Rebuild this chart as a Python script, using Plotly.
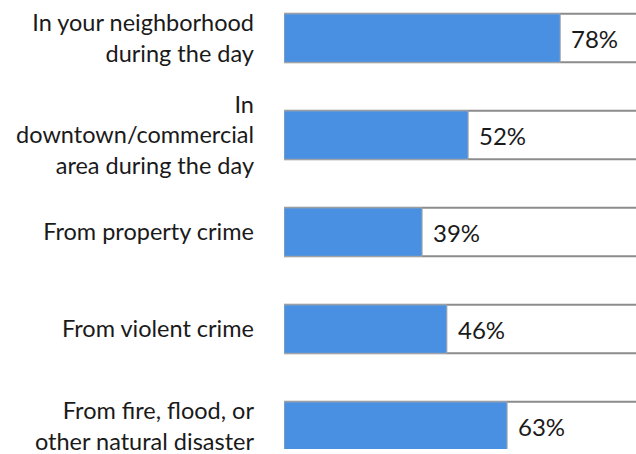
import plotly.graph_objects as go

categories = [
    "In your neighborhood<br>during the day",
    "In<br>downtown/commercial<br>area during the day",
    "From property crime",
    "From violent crime",
    "From fire, flood, or<br>other natural disaster",
]
values = [78, 52, 39, 46, 63]
full = [100, 100, 100, 100, 100]

pos = list(range(len(categories)))

fig = go.Figure()
fig.add_trace(go.Bar(
    y=pos, x=full, orientation="h", width=0.5,
    marker=dict(color="white", line=dict(color="#8c8c8c", width=2)),
    hoverinfo="skip", showlegend=False,
))
fig.add_trace(go.Bar(
    y=pos, x=values, orientation="h", width=0.5,
    marker=dict(color="#4a90e2", line=dict(color="#a8a8a8", width=1)),
    showlegend=False,
))
for p, v in zip(pos, values):
    fig.add_annotation(
        x=v, y=p, xref="x", yref="y", text=f"{v}%", showarrow=False,
        xanchor="left", yanchor="middle", xshift=9,
        font=dict(family="Lato", size=24, color="#1a1a1a"),
    )

fig.update_layout(
    width=636, height=454,
    margin=dict(l=284, r=0, t=0, b=0),
    barmode="overlay",
    plot_bgcolor="white", paper_bgcolor="white",
    font=dict(family="Lato", size=23.5, color="#1a1a1a"),
    xaxis=dict(range=[0, 99.4], visible=False, showgrid=False, zeroline=False),
    yaxis=dict(
        range=[4.236, -0.3925], tickvals=pos, ticktext=categories,
        showgrid=False, zeroline=False, showline=False, ticks="",
        ticklabelstandoff=29, ticklabeloverflow="allow",
        tickfont=dict(family="Lato", size=23.5, color="#1a1a1a"),
    ),
)

fig.write_html("out.html")
